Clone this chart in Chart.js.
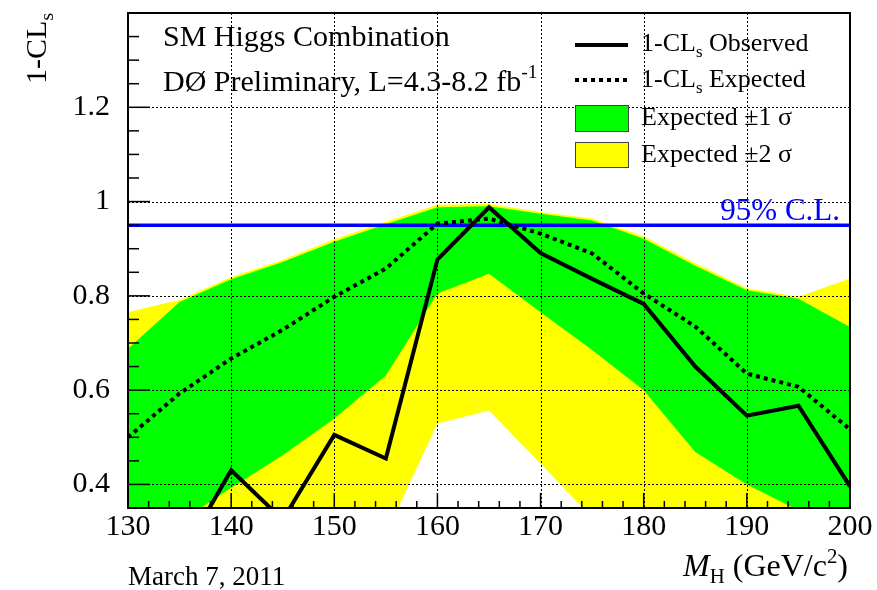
<!DOCTYPE html>
<html>
<head>
<meta charset="utf-8">
<script src="https://cdn.jsdelivr.net/npm/chart.js@4.4.1/dist/chart.umd.min.js"></script>
<style>
  html, body { margin: 0; padding: 0; background: #fff; }
  canvas { display: block; }
</style>
</head>
<body>
<canvas id="clsChart" width="877" height="590"></canvas>
<script>
// Higgs mass points (GeV/c^2) and 1-CLs values
const masses   = [130, 135, 140, 145, 150, 155, 160, 165, 170, 175, 180, 185, 190, 195, 200];
const observed = [0.20, 0.24, 0.43, 0.325, 0.505, 0.455, 0.877, 0.988, 0.891, 0.836, 0.783, 0.65, 0.546, 0.567, 0.396];
const expected = [0.50, 0.593, 0.667, 0.728, 0.798, 0.858, 0.953, 0.964, 0.932, 0.89, 0.805, 0.735, 0.635, 0.607, 0.517];
const onePlus  = [0.688, 0.787, 0.835, 0.872, 0.915, 0.952, 0.988, 0.990, 0.974, 0.960, 0.921, 0.864, 0.812, 0.794, 0.734];
const oneMinus = [0.25, 0.32, 0.393, 0.462, 0.54, 0.631, 0.805, 0.847, 0.765, 0.685, 0.60, 0.469, 0.40, 0.345, 0.29];
const twoPlus  = [0.766, 0.791, 0.840, 0.876, 0.920, 0.957, 0.993, 0.995, 0.978, 0.964, 0.926, 0.869, 0.816, 0.798, 0.837];
const twoMinus = [0.10, 0.12, 0.15, 0.20, 0.25, 0.294, 0.529, 0.557, 0.444, 0.33, 0.25, 0.20, 0.15, 0.12, 0.10];
const clLevel  = 0.95;

const xTicks = [130, 140, 150, 160, 170, 180, 190, 200];
const yTicks = [0.4, 0.6, 0.8, 1, 1.2];

const SERIF = '"Liberation Serif", "DejaVu Serif", serif';
const pts = arr => arr.map((v, i) => ({ x: masses[i], y: v }));

// grid is drawn right after the green band so it sits above the fills
const GREEN_UP = 3;

const gridPlugin = {
    id: 'gridOverBands',
    afterDatasetDraw(chart, args) {
        if (args.index !== GREEN_UP) return;
        const { ctx, chartArea: a, scales: { x, y } } = chart;
        ctx.save();
        ctx.strokeStyle = '#000';
        ctx.lineWidth = 1;
        ctx.setLineDash([2, 2]);
        xTicks.slice(1, -1).forEach(v => {
            const px = Math.round(x.getPixelForValue(v)) + 0.5;
            ctx.beginPath(); ctx.moveTo(px, a.top); ctx.lineTo(px, a.bottom); ctx.stroke();
        });
        yTicks.forEach(v => {
            const py = Math.round(y.getPixelForValue(v)) + 0.5;
            ctx.beginPath(); ctx.moveTo(a.left, py); ctx.lineTo(a.right, py); ctx.stroke();
        });
        ctx.restore();
    }
};

// text with a sub- or superscript piece: parts = [[text, 'n'|'sub'|'sup'], ...]
function richWidth(ctx, parts, size, italicFirst) {
    let w = 0;
    parts.forEach(([t, k], i) => {
        const s = k === 'n' ? size : size * 0.65;
        ctx.font = (italicFirst && i === 0 ? 'italic ' : '') + s + 'px ' + SERIF;
        w += ctx.measureText(t).width;
    });
    return w;
}
function richText(ctx, parts, x, yBase, size, italicFirst) {
    parts.forEach(([t, k], i) => {
        const s = k === 'n' ? size : size * 0.65;
        ctx.font = (italicFirst && i === 0 ? 'italic ' : '') + s + 'px ' + SERIF;
        const dy = k === 'sub' ? size * 0.22 : k === 'sup' ? -size * 0.42 : 0;
        ctx.fillText(t, x, yBase + dy);
        x += ctx.measureText(t).width;
    });
}

const framePlugin = {
    id: 'frameAndLabels',
    afterDraw(chart) {
        const { ctx, chartArea: a, scales: { x, y } } = chart;
        ctx.save();

        // inward ticks
        ctx.strokeStyle = '#000';
        ctx.lineWidth = 1.5;
        for (let m = 130; m <= 200; m += 2) {
            const px = x.getPixelForValue(m);
            const len = (m % 10 === 0) ? 15 : 7;
            ctx.beginPath(); ctx.moveTo(px, a.bottom); ctx.lineTo(px, a.bottom - len); ctx.stroke();
        }
        for (let k = 7; k <= 28; k++) {
            const v = k * 0.05;
            const py = y.getPixelForValue(v);
            const len = (k % 4 === 0) ? 22 : 11;
            ctx.beginPath(); ctx.moveTo(a.left, py); ctx.lineTo(a.left + len, py); ctx.stroke();
        }

        // frame
        ctx.lineWidth = 2;
        ctx.strokeRect(a.left, a.top, a.right - a.left, a.bottom - a.top);

        ctx.fillStyle = '#000';
        ctx.textBaseline = 'alphabetic';
        ctx.textAlign = 'left';

        // header texts
        ctx.font = '30px ' + SERIF;
        ctx.fillText('SM Higgs Combination', 163, 46);
        richText(ctx, [['DØ Preliminary, L=4.3-8.2 fb', 'n'], ['-1', 'sup']], 163, 91, 30);

        // legend
        const lx0 = 575, lx1 = 628, tx = 641;
        ctx.lineWidth = 4;
        ctx.beginPath(); ctx.moveTo(lx0, 45); ctx.lineTo(lx1, 45); ctx.stroke();
        ctx.setLineDash([4, 4]);
        ctx.beginPath(); ctx.moveTo(lx0, 80); ctx.lineTo(lx1, 80); ctx.stroke();
        ctx.setLineDash([]);
        ctx.lineWidth = 1;
        ctx.strokeStyle = '#444';
        ctx.fillStyle = '#00ff00';
        ctx.fillRect(lx0, 105, lx1 - lx0, 26); ctx.strokeRect(lx0 + 0.5, 105.5, lx1 - lx0, 26);
        ctx.fillStyle = '#ffff00';
        ctx.fillRect(lx0, 142, lx1 - lx0, 25); ctx.strokeRect(lx0 + 0.5, 142.5, lx1 - lx0, 25);

        ctx.fillStyle = '#000';
        richText(ctx, [['1-CL', 'n'], ['s', 'sub'], [' Observed', 'n']], tx, 51, 26);
        richText(ctx, [['1-CL', 'n'], ['s', 'sub'], [' Expected', 'n']], tx, 87, 26);
        ctx.font = '26px ' + SERIF;
        ctx.fillText('Expected ±1 σ', tx, 125);
        ctx.fillText('Expected ±2 σ', tx, 162);

        // 95% C.L. label
        ctx.fillStyle = '#0000ff';
        ctx.font = '31px ' + SERIF;
        ctx.textAlign = 'right';
        ctx.fillText('95% C.L.', 840, 220);
        ctx.textAlign = 'left';

        // axis titles
        ctx.fillStyle = '#000';
        const yParts = [['1-CL', 'n'], ['s', 'sub']];
        const yw = richWidth(ctx, yParts, 30);
        ctx.save();
        ctx.translate(46, a.top + yw);
        ctx.rotate(-Math.PI / 2);
        richText(ctx, yParts, 0, 0, 30);
        ctx.restore();

        const xParts = [['M', 'n'], ['H', 'sub'], [' (GeV/c', 'n'], ['2', 'sup'], [')', 'n']];
        const xw = richWidth(ctx, xParts, 32, true);
        richText(ctx, xParts, 848 - xw, 576, 32, true);

        ctx.font = '27px ' + SERIF;
        ctx.fillText('March 7, 2011', 128, 585);

        ctx.restore();
    }
};

new Chart(document.getElementById('clsChart'), {
    type: 'line',
    data: {
        datasets: [
            { label: 'Observed', data: pts(observed), borderColor: '#000', borderWidth: 4,
              pointRadius: 0, fill: false, order: 0, tension: 0 },
            { label: 'Expected', data: pts(expected), borderColor: '#000', borderWidth: 4,
              borderDash: [4, 4], pointRadius: 0, fill: false, order: 1, tension: 0 },
            { label: '95% C.L.', data: [{ x: masses[0], y: clLevel }, { x: masses[masses.length - 1], y: clLevel }],
              borderColor: '#0000ff', borderWidth: 3.5, pointRadius: 0, fill: false, order: 2 },
            { label: 'Expected +1 sigma', data: pts(onePlus), borderWidth: 0, pointRadius: 0,
              backgroundColor: '#00ff00', fill: 4, order: 3 },
            { label: 'Expected -1 sigma', data: pts(oneMinus), borderWidth: 0, pointRadius: 0,
              fill: false, order: 4 },
            { label: 'Expected +2 sigma', data: pts(twoPlus), borderWidth: 0, pointRadius: 0,
              backgroundColor: '#ffff00', fill: 6, order: 5 },
            { label: 'Expected -2 sigma', data: pts(twoMinus), borderWidth: 0, pointRadius: 0,
              fill: false, order: 6 }
        ]
    },
    options: {
        responsive: false,
        animation: false,
        events: [],
        layout: { padding: { top: 13, right: 27, left: 0, bottom: 0 } },
        plugins: { legend: { display: false }, tooltip: { enabled: false } },
        scales: {
            x: {
                type: 'linear', min: 130, max: 200,
                grid: { display: false, drawTicks: false },
                border: { display: false },
                afterBuildTicks: axis => { axis.ticks = xTicks.map(v => ({ value: v })); },
                afterFit: axis => { axis.height = 82; axis.paddingLeft = 0; axis.paddingRight = 0; },
                ticks: { color: '#000', padding: 1, maxRotation: 0, autoSkip: false,
                         font: { family: SERIF, size: 30 }, callback: v => String(v) }
            },
            y: {
                min: 0.35, max: 1.4,
                grid: { display: false, drawTicks: false },
                border: { display: false },
                afterBuildTicks: axis => { axis.ticks = yTicks.map(v => ({ value: v })); },
                afterFit: axis => { axis.width = 128; axis.paddingTop = 0; axis.paddingBottom = 0; },
                ticks: { color: '#000', padding: 18, autoSkip: false,
                         font: { family: SERIF, size: 30 }, callback: v => String(v) }
            }
        }
    },
    plugins: [gridPlugin, framePlugin]
});
</script>
</body>
</html>
